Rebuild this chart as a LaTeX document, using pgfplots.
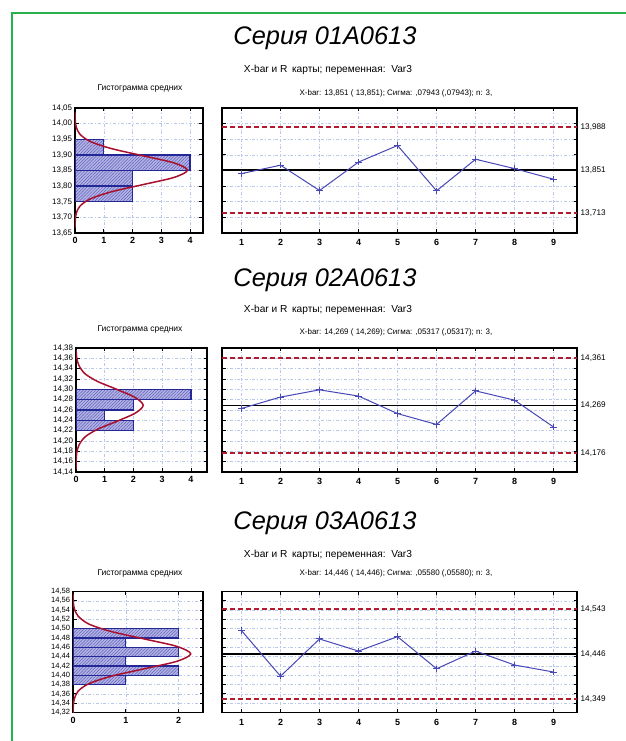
\documentclass[border=0pt]{standalone}
\usepackage{pgfplots}
\pgfplotsset{compat=1.18}
\usepackage{fontspec}
\setmainfont{Liberation Sans}
\usetikzlibrary{patterns.meta}
\definecolor{frameGreen}{RGB}{40,178,76}
\definecolor{barEdge}{RGB}{35,40,150}
\definecolor{barFill}{RGB}{180,180,228}
\definecolor{hatch}{RGB}{95,95,190}
\definecolor{curveRed}{RGB}{170,16,45}
\definecolor{limRed}{RGB}{180,25,45}
\definecolor{lineBlue}{RGB}{72,72,182}
\definecolor{gridBlue}{RGB}{185,200,235}
\newcommand\fs[1]{\fontsize{#1}{#1}\selectfont}
\pgfplotsset{
  base/.style={scale only axis, anchor=south west,
    axis line style={line width=1.7bp},
    tick style={black, line width=0.8bp}, major tick length=3.5bp,
    grid style={gridBlue, line width=0.5bp, dash pattern=on 3bp off 2bp on 0.6bp off 2bp},
    xmajorgrids, ymajorgrids,
    /pgf/number format/assume math mode=true},
  hist/.style={base, xmin=0,
    yticklabel style={font=\fs{8}, inner sep=1.2bp, xshift=-1.5bp,
      /pgf/number format/fixed, /pgf/number format/fixed zerofill,
      /pgf/number format/precision=2, /pgf/number format/use comma},
    xticklabel style={font=\fs{9}\bfseries, yshift=-1bp}},
  chart/.style={base, xmin=0.5, xmax=9.6, xtick={1,...,9},
    yticklabels={},
    xticklabel style={font=\fs{9}\bfseries, yshift=-3bp}},
  rlab/.style={scale only axis, anchor=south west, xmin=0.5, xmax=9.6,
    hide x axis, axis y line*=right, axis line style={draw=none},
    major tick length=0pt, yticklabel style={font=\fs{8.2}, inner sep=1.5bp, xshift=2bp}},
  histbars/.style={xbar interval, draw=barEdge, line width=1.3bp, fill=barFill,
    postaction={pattern={Lines[angle=45,distance=2.2bp,line width=0.5bp]}, pattern color=hatch}},
  normcurve/.style={curveRed, line width=1.5bp, smooth, no marks},
  limline/.style={limRed, line width=2bp, dash pattern=on 5bp off 3bp, no marks},
  cline/.style={black, line width=1.4bp, no marks},
  meanline/.style={lineBlue, line width=1bp, mark=+, mark size=3.2bp, mark options={solid, line width=1bp}},
}
\begin{document}
\begin{tikzpicture}
\useasboundingbox (0,0) rectangle (626bp,741bp);
\fill[white] (0,0) rectangle (626bp,741bp);
\draw[frameGreen, line width=2.6bp] (12bp,0) -- (12bp,728bp) -- (626bp,728bp);

% ================= Panel 1 =================
\node at (325bp,703bp) {\fs{25.5}\itshape Серия 01A0613};
\node at (328bp,671bp) {\fs{10.2}X-bar и R\, карты; переменная:\ \ Var3};
\node at (396bp,648bp) {\fs{8}X-bar: 13,851 ( 13,851); Сигма: ,07943 (,07943); n: 3,};
\node at (140bp,653bp) {\fs{8.5}Гистограмма средних};

\begin{axis}[hist, at={(75bp,508bp)}, width=128bp, height=125bp,
  xmax=4.45, ymin=13.65, ymax=14.05, xtick={0,...,4},
  ytick={13.65,13.70,13.75,13.80,13.85,13.90,13.95,14.00,14.05}]
\addplot[histbars] coordinates {(2,13.75) (2,13.80) (4,13.85) (1,13.90) (0,13.95)};
\addplot[normcurve] coordinates {(0.0013,13.667)(0.0086,13.690)(0.0434,13.713)(0.172,13.736)(0.529,13.759)(1.270,13.782)(2.371,13.805)(3.451,13.828)(3.91,13.851)(3.451,13.874)(2.371,13.897)(1.270,13.920)(0.529,13.943)(0.172,13.966)(0.0434,13.989)(0.0086,14.012)(0.0013,14.035)};
\end{axis}

\begin{axis}[chart, at={(222bp,508bp)}, width=355bp, height=125bp,
  ymin=13.65, ymax=14.05, ytick={13.65,13.70,13.75,13.80,13.85,13.90,13.95,14.00,14.05}]
\addplot[limline] coordinates {(0.5,13.988) (9.6,13.988)};
\addplot[limline] coordinates {(0.5,13.713) (9.6,13.713)};
\addplot[cline] coordinates {(0.5,13.851) (9.6,13.851)};
\addplot[meanline] coordinates {(1,13.840)(2,13.867)(3,13.786)(4,13.877)(5,13.930)(6,13.785)(7,13.886)(8,13.856)(9,13.822)};
\end{axis}
\begin{axis}[rlab, at={(222bp,508bp)}, width=355bp, height=125bp,
  ymin=13.65, ymax=14.05, ytick={13.713,13.851,13.988},
  yticklabels={{13,713},{13,851},{13,988}}]
\addplot[draw=none] coordinates {(1,13.851)};
\end{axis}

% ================= Panel 2 =================
\node at (325bp,461bp) {\fs{25.5}\itshape Серия 02A0613};
\node at (328bp,431bp) {\fs{10.2}X-bar и R\, карты; переменная:\ \ Var3};
\node at (396bp,409bp) {\fs{8}X-bar: 14,269 ( 14,269); Сигма: ,05317 (,05317); n: 3,};
\node at (140bp,412bp) {\fs{8.5}Гистограмма средних};

\begin{axis}[hist, at={(76bp,269bp)}, width=131bp, height=124bp,
  xmax=4.56, ymin=14.14, ymax=14.38, xtick={0,...,4},
  ytick={14.14,14.16,14.18,14.20,14.22,14.24,14.26,14.28,14.30,14.32,14.34,14.36,14.38}]
\addplot[histbars] coordinates {(2,14.22) (1,14.24) (2,14.26) (4,14.28) (0,14.30)};
\addplot[normcurve] coordinates {(0.0008,14.146)(0.0051,14.162)(0.026,14.177)(0.1027,14.192)(0.3165,14.208)(0.7595,14.223)(1.4186,14.238)(2.064,14.254)(2.339,14.269)(2.064,14.284)(1.4186,14.300)(0.7595,14.315)(0.3165,14.330)(0.1027,14.346)(0.026,14.361)(0.0051,14.376)};
\end{axis}

\begin{axis}[chart, at={(222bp,269bp)}, width=355bp, height=124bp,
  ymin=14.14, ymax=14.38, ytick={14.14,14.16,14.18,14.20,14.22,14.24,14.26,14.28,14.30,14.32,14.34,14.36,14.38}]
\addplot[limline] coordinates {(0.5,14.361) (9.6,14.361)};
\addplot[limline] coordinates {(0.5,14.176) (9.6,14.176)};
\addplot[cline] coordinates {(0.5,14.269) (9.6,14.269)};
\addplot[meanline] coordinates {(1,14.263)(2,14.285)(3,14.299)(4,14.287)(5,14.253)(6,14.232)(7,14.297)(8,14.279)(9,14.227)};
\end{axis}
\begin{axis}[rlab, at={(222bp,269bp)}, width=355bp, height=124bp,
  ymin=14.14, ymax=14.38, ytick={14.176,14.269,14.361},
  yticklabels={{14,176},{14,269},{14,361}}]
\addplot[draw=none] coordinates {(1,14.269)};
\end{axis}

% ================= Panel 3 =================
\node at (325bp,218bp) {\fs{25.5}\itshape Серия 03A0613};
\node at (328bp,186bp) {\fs{10.2}X-bar и R\, карты; переменная:\ \ Var3};
\node at (396bp,168bp) {\fs{8}X-bar: 14,446 ( 14,446); Сигма: ,05580 (,05580); n: 3,};
\node at (140bp,168bp) {\fs{8.5}Гистограмма средних};

\begin{axis}[hist, at={(73bp,28.5bp)}, width=130bp, height=121bp,
  xmax=2.46, ymin=14.32, ymax=14.58, xtick={0,1,2},
  yticklabel style={font=\fs{7.6}},
  ytick={14.32,14.34,14.36,14.38,14.40,14.42,14.44,14.46,14.48,14.50,14.52,14.54,14.56,14.58}]
\addplot[histbars] coordinates {(1,14.38) (2,14.40) (1,14.42) (2,14.44) (1,14.46) (2,14.48) (0,14.50)};
\addplot[normcurve] coordinates {(0.0007,14.317)(0.0049,14.333)(0.0247,14.349)(0.0978,14.366)(0.3015,14.382)(0.7234,14.398)(1.3513,14.414)(1.966,14.430)(2.228,14.446)(1.966,14.462)(1.3513,14.478)(0.7234,14.494)(0.3015,14.510)(0.0978,14.527)(0.0247,14.543)(0.0049,14.559)(0.0007,14.575)};
\end{axis}

\begin{axis}[chart, at={(222bp,28.5bp)}, width=355bp, height=121bp,
  ymin=14.32, ymax=14.58, ytick={14.32,14.34,14.36,14.38,14.40,14.42,14.44,14.46,14.48,14.50,14.52,14.54,14.56,14.58}]
\addplot[limline] coordinates {(0.5,14.543) (9.6,14.543)};
\addplot[limline] coordinates {(0.5,14.349) (9.6,14.349)};
\addplot[cline] coordinates {(0.5,14.446) (9.6,14.446)};
\addplot[meanline] coordinates {(1,14.496)(2,14.398)(3,14.478)(4,14.452)(5,14.483)(6,14.414)(7,14.452)(8,14.422)(9,14.407)};
\end{axis}
\begin{axis}[rlab, at={(222bp,28.5bp)}, width=355bp, height=121bp,
  ymin=14.32, ymax=14.58, ytick={14.349,14.446,14.543},
  yticklabels={{14,349},{14,446},{14,543}}]
\addplot[draw=none] coordinates {(1,14.446)};
\end{axis}
\end{tikzpicture}
\end{document}
